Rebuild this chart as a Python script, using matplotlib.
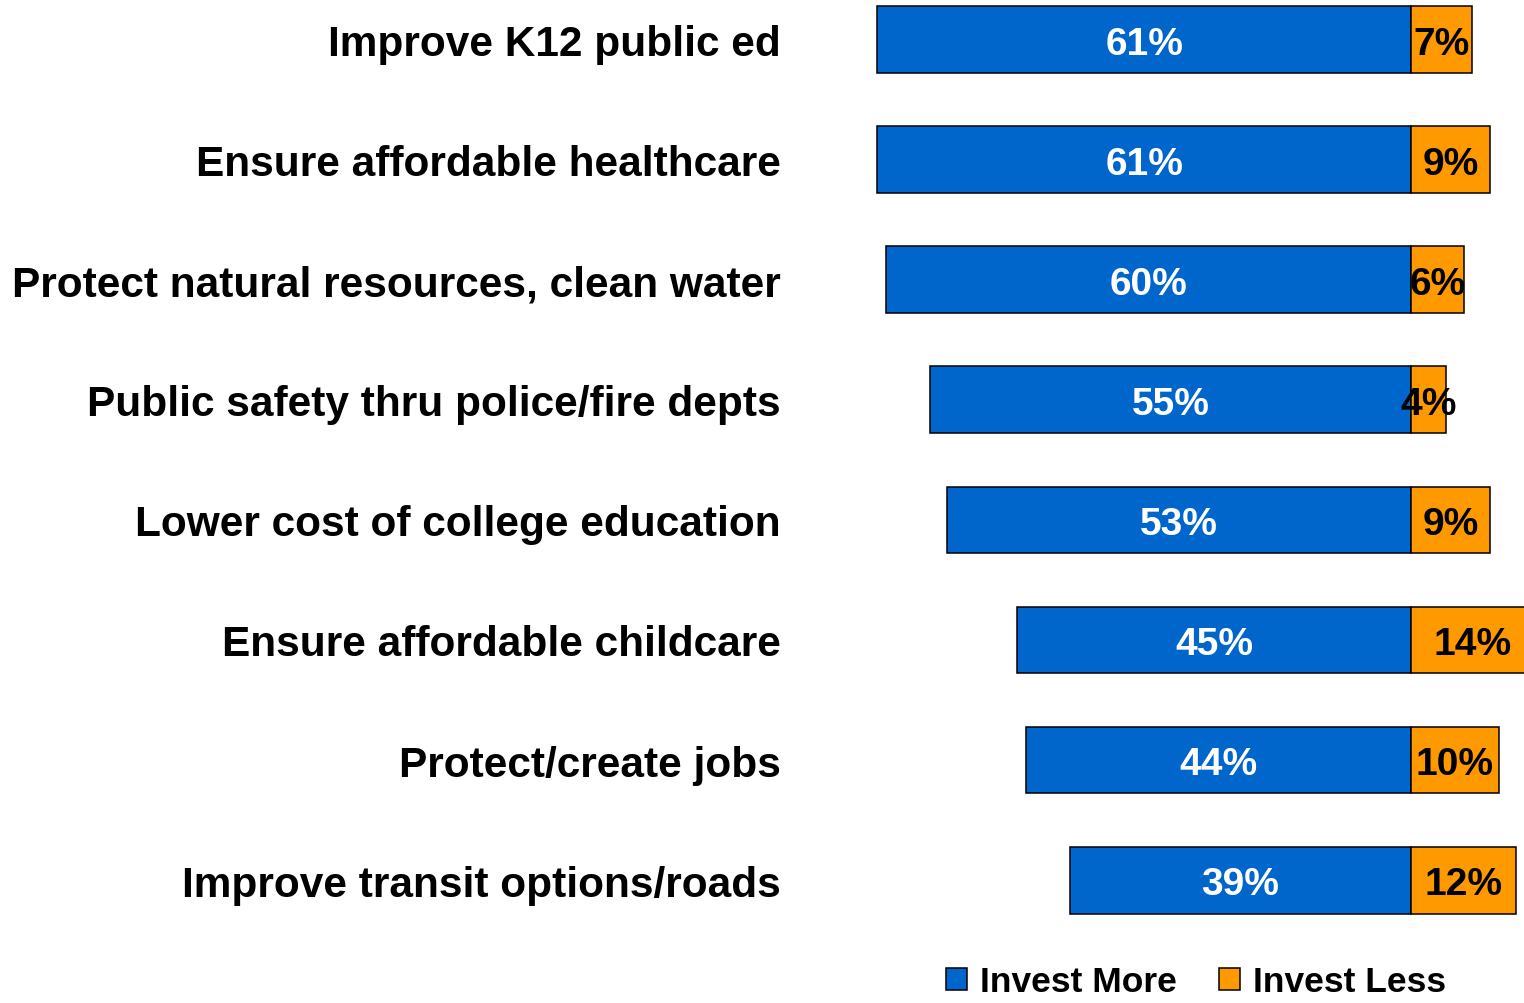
import matplotlib
matplotlib.use("Agg")
import matplotlib.pyplot as plt

categories = [
    "Improve K12 public ed",
    "Ensure affordable healthcare",
    "Protect natural resources, clean water",
    "Public safety thru police/fire depts",
    "Lower cost of college education",
    "Ensure affordable childcare",
    "Protect/create jobs",
    "Improve transit options/roads",
]
invest_more = [61, 61, 60, 55, 53, 45, 44, 39]
invest_less = [7, 9, 6, 4, 9, 14, 10, 12]
series_names = ["Invest More", "Invest Less"]

BLUE = "#0066CC"
ORANGE = "#FF9900"
FONT = "Liberation Sans"

W, H = 1524, 1004
fig = plt.figure(figsize=(W / 100, H / 100), dpi=100)
ax_left_px, ax_right_px = 800, 1524
ax_top_px, ax_bot_px = 0, 960
ax = fig.add_axes([ax_left_px / W, 1 - ax_bot_px / H,
                   (ax_right_px - ax_left_px) / W, (ax_bot_px - ax_top_px) / H])

zero_px, scale = 1411, 8.75
ax.set_xlim((ax_left_px - zero_px) / scale, (ax_right_px - zero_px) / scale)
row0, step = 40.5, 120.1
ax.set_ylim((ax_bot_px - row0) / step, (ax_top_px - row0) / step)

y = list(range(len(categories)))
bh = 0.555
b1 = ax.barh(y, [-v for v in invest_more], height=bh, color=BLUE,
             edgecolor="black", linewidth=1.1, label=series_names[0])
b2 = ax.barh(y, invest_less, height=bh, color=ORANGE,
             edgecolor="black", linewidth=1.1, label=series_names[1])
for b in list(b1) + list(b2):
    b.set_clip_on(False)

for i, (m, l) in enumerate(zip(invest_more, invest_less)):
    ax.text(-m / 2, i + 0.035, f"{m}%", ha="center", va="center", color="white",
            fontsize=28, fontweight="bold", family=FONT)
    ax.text(l / 2, i + 0.035, f"{l}%", ha="center", va="center", color="black",
            fontsize=28, fontweight="bold", family=FONT)

ax.set_yticks(y)
ax.set_yticklabels(categories, fontsize=30.5, fontweight="bold", family=FONT)
ax.tick_params(axis="y", length=0, pad=14)
ax.set_xticks([])
for s in ax.spines.values():
    s.set_visible(False)

fig.legend(handles=[b1, b2], labels=series_names, loc="center",
           bbox_to_anchor=(1196 / W, 1 - 983 / H), ncol=2, frameon=False,
           prop={"family": FONT, "weight": "bold", "size": 25.5},
           handlelength=0.6, handleheight=0.6, handletextpad=0.35,
           columnspacing=1.2)

fig.savefig("out.png", dpi=100)
